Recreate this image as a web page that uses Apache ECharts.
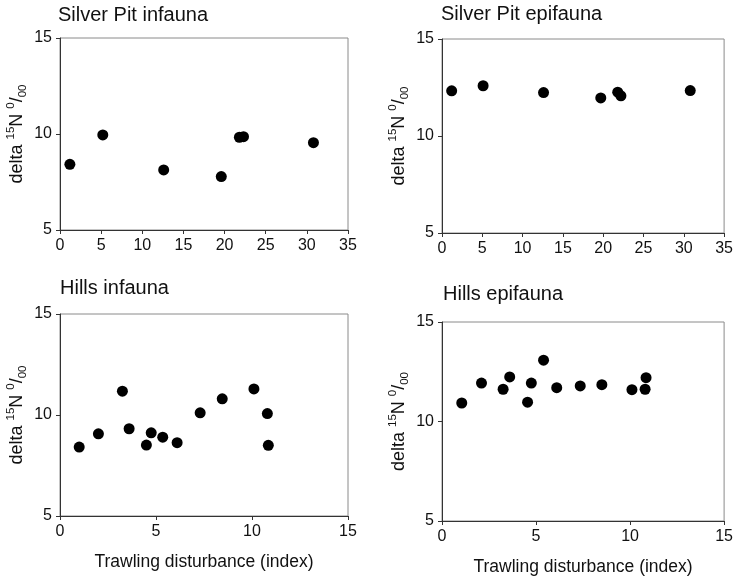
<!DOCTYPE html>
<html>
<head>
<meta charset="utf-8">
<script src="https://cdn.jsdelivr.net/npm/echarts@6/dist/echarts.min.js"></script>
<style>
html,body{margin:0;padding:0;background:#fff;}
#chart{width:736px;height:578px;}
</style>
</head>
<body>
<div id="chart"></div>
<script>
// ---- data ----
var panelTitles = ["Silver Pit infauna", "Silver Pit epifauna", "Hills infauna", "Hills epifauna"];
var spInfaunaX = [1.2, 5.2, 12.6, 19.6, 21.8, 22.3, 30.8];
var spInfaunaY = [8.42, 9.95, 8.13, 7.78, 9.83, 9.86, 9.55];
var spEpifaunaX = [1.2, 5.1, 12.6, 19.7, 21.8, 22.2, 30.8];
var spEpifaunaY = [12.33, 12.59, 12.24, 11.96, 12.26, 12.07, 12.34];
var hillsInfaunaX = [1.0, 2.0, 3.25, 3.6, 4.5, 4.75, 5.35, 6.1, 7.3, 8.45, 10.1, 10.8, 10.85];
var hillsInfaunaY = [8.41, 9.07, 11.18, 9.32, 8.51, 9.12, 8.9, 8.63, 10.11, 10.8, 11.29, 10.07, 8.5];
var hillsEpifaunaX = [1.05, 2.1, 3.25, 3.6, 4.55, 4.75, 5.4, 6.1, 7.35, 8.5, 10.1, 10.8, 10.85];
var hillsEpifaunaY = [10.93, 11.93, 11.62, 12.24, 10.97, 11.93, 13.08, 11.7, 11.79, 11.85, 11.6, 11.62, 12.2];
var topXRange = [0, 35];   // Silver Pit x-axis ticks 0..35 step 5
var bottomXRange = [0, 15]; // Hills x-axis ticks 0..15 step 5
var yRange = [5, 15];      // y-axis ticks 5..15 step 5
var tickStep = 5;
var xAxisName = "Trawling disturbance (index)";

// ---- build ----
function pairs(xs, ys){ return xs.map(function(x,i){ return [x, ys[i]]; }); }
var FONT = '"Liberation Sans", Arial, sans-serif';
var grids = [
  {left:60, top:38, width:288, height:192},
  {left:442, top:39, width:287, height:194},
  {left:60, top:314, width:288, height:202},
  {left:442, top:322, width:287, height:199}
];
grids.forEach(function(g){ g.show = true; g.borderColor = '#8a8a8a'; g.borderWidth = 1; g.backgroundColor = 'transparent'; });

var titlePos = [
  {left:58, top:5}, {left:441, top:4}, {left:60, top:278}, {left:443, top:284}
];
var titles = panelTitles.map(function(t,i){
  return {text:t, left:titlePos[i].left, top:titlePos[i].top, padding:0,
    textStyle:{fontFamily:FONT, fontSize:20, fontWeight:'normal', color:'#111'}};
});

var xRanges = [topXRange, topXRange, bottomXRange, bottomXRange];
var xAxes = xRanges.map(function(r,i){
  return {type:'value', gridIndex:i, min:r[0], max:r[1], interval:tickStep,
    name: i>=2 ? xAxisName : '', nameLocation:'middle', nameGap:37,
    nameTextStyle:{fontFamily:FONT, fontSize:17.5, color:'#111'},
    axisLine:{show:true, onZero:false, lineStyle:{color:'#333', width:1}},
    axisTick:{show:true, length:4, lineStyle:{color:'#333'}},
    axisLabel:{fontFamily:FONT, fontSize:16, color:'#111', margin:8},
    splitLine:{show:false}};
});
var yAxes = [0,1,2,3].map(function(i){
  return {type:'value', gridIndex:i, min:yRange[0], max:yRange[1], interval:tickStep,
    name:'delta {sup|15}N {sup|0}/{sub|00}', nameLocation:'middle', nameGap:31,
    nameTextStyle:{fontFamily:FONT, fontSize:18, color:'#111', lineHeight:24,
      rich:{
        sup:{fontFamily:FONT, fontSize:11.5, color:'#111', lineHeight:13, verticalAlign:'top'},
        sub:{fontFamily:FONT, fontSize:11.5, color:'#111', lineHeight:13, verticalAlign:'bottom'}
      }},
    axisLine:{show:true, onZero:false, lineStyle:{color:'#333', width:1}},
    axisTick:{show:true, length:4, lineStyle:{color:'#333'}},
    axisLabel:{fontFamily:FONT, fontSize:16, color:'#111', margin:8},
    splitLine:{show:false}};
});

var seriesData = [
  pairs(spInfaunaX, spInfaunaY),
  pairs(spEpifaunaX, spEpifaunaY),
  pairs(hillsInfaunaX, hillsInfaunaY),
  pairs(hillsEpifaunaX, hillsEpifaunaY)
];
var series = seriesData.map(function(d,i){
  return {type:'scatter', xAxisIndex:i, yAxisIndex:i, data:d, symbol:'circle', symbolSize:11,
    itemStyle:{color:'#000', opacity:1}, emphasis:{disabled:true}, animation:false};
});

var chart = echarts.init(document.getElementById('chart'), null, {renderer:'canvas'});
chart.setOption({
  backgroundColor:'#fff',
  animation:false,
  title:titles,
  grid:grids,
  xAxis:xAxes,
  yAxis:yAxes,
  series:series
});
</script>
</body>
</html>
